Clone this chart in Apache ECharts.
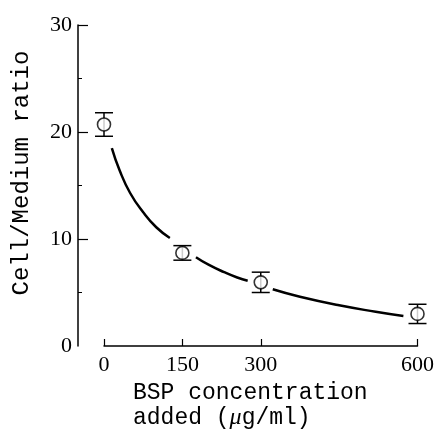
<!DOCTYPE html>
<html>
<head>
<meta charset="utf-8">
<script src="https://cdn.jsdelivr.net/npm/echarts@6/dist/echarts.min.js"></script>
<style>
  html, body { margin: 0; padding: 0; background: #fff; }
  #chart { width: 437px; height: 441px; }
</style>
</head>
<body>
<div id="chart"></div>
<script>
// measured points (mean +/- error)
var concentrations = [0, 150, 300, 600];
var ratios = [20.7, 8.7, 5.95, 3.0];
var errors = [1.1, 0.68, 0.95, 0.9];

// fitted curve, broken around the markers
var fitX = [15, 30, 50, 75, 100, 126, null, 176, 200, 230, 255, 275, null, 323, 375, 450, 520, 573];
var fitY = [18.5, 16.4, 14.3, 12.5, 11.1, 10.1, null, 8.3, 7.6, 6.9, 6.4, 6.1, null, 5.3, 4.6, 3.8, 3.2, 2.8];

var xTicks = [0, 150, 300, 600];
var yTicks = [10, 20, 30];

var serif = 'Liberation Serif';

var chartDom = document.getElementById('chart');
var myChart = echarts.init(chartDom);
var option;

var points = concentrations.map(function (c, i) { return [c, ratios[i]]; });
var bars = concentrations.map(function (c, i) {
  return [c, ratios[i] - errors[i], ratios[i] + errors[i]];
});
var fit = fitX.map(function (x, i) { return x === null ? [null, null] : [x, fitY[i]]; });

option = {
  animation: false,
  backgroundColor: '#fff',
  grid: { left: 104, right: 19, top: 25, bottom: 95 },
  xAxis: {
    type: 'value',
    min: 0,
    max: 600,
    interval: 150,
    splitLine: { show: false },
    axisLine: { lineStyle: { color: '#000', width: 1.5 } },
    axisTick: { inside: true, length: 7, customValues: xTicks, lineStyle: { color: '#000', width: 1.2 } },
    axisLabel: {
      customValues: xTicks,
      color: '#000', fontFamily: serif, fontSize: 22, margin: 8
    }
  },
  yAxis: {
    type: 'value',
    min: 0,
    max: 30,
    interval: 10,
    offset: 26,
    splitLine: { show: false },
    axisLine: { show: true, onZero: false, lineStyle: { color: '#000', width: 1.5 } },
    axisTick: { inside: true, length: 10, customValues: yTicks, lineStyle: { color: '#000', width: 1.2 } },
    minorTick: { show: true, splitNumber: 2, length: 4, lineStyle: { color: '#000', width: 1 } },
    axisLabel: { color: '#000', fontFamily: serif, fontSize: 22, margin: 6 }
  },
  graphic: [
    {
      type: 'text',
      x: 22,
      y: 173,
      rotation: Math.PI / 2,
      style: {
        text: 'Cell/Medium ratio',
        font: '24px "Liberation Mono"',
        fill: '#000',
        align: 'center',
        verticalAlign: 'middle'
      }
    },
    {
      type: 'text',
      left: 133,
      top: 380,
      style: {
        text: 'BSP concentration\nadded ({mu|μ}g/ml)',
        font: '23px "Liberation Mono"',
        lineHeight: 25,
        fill: '#000',
        rich: {
          mu: { fontFamily: serif, fontStyle: 'italic', fontSize: 24, fill: '#000' }
        }
      }
    }
  ],
  series: [
    {
      type: 'line',
      data: fit,
      smooth: true,
      showSymbol: false,
      connectNulls: false,
      lineStyle: { color: '#000', width: 2.5 },
      z: 2
    },
    {
      type: 'custom',
      data: bars,
      renderItem: function (params, api) {
        var x = api.value(0);
        var lo = api.coord([x, api.value(1)]);
        var hi = api.coord([x, api.value(2)]);
        var w = 9;
        var st = { stroke: '#000', lineWidth: 1.5 };
        return {
          type: 'group',
          children: [
            { type: 'line', shape: { x1: lo[0], y1: lo[1], x2: hi[0], y2: hi[1] }, style: st },
            { type: 'line', shape: { x1: lo[0] - w, y1: lo[1], x2: lo[0] + w, y2: lo[1] }, style: st },
            { type: 'line', shape: { x1: hi[0] - w, y1: hi[1], x2: hi[0] + w, y2: hi[1] }, style: st }
          ]
        };
      },
      z: 3
    },
    {
      type: 'scatter',
      data: points,
      symbol: 'circle',
      symbolSize: 13,
      itemStyle: { color: '#fff', borderColor: '#000', borderWidth: 1.6 },
      z: 4
    }
  ]
};

option && myChart.setOption(option);
</script>
</body>
</html>
